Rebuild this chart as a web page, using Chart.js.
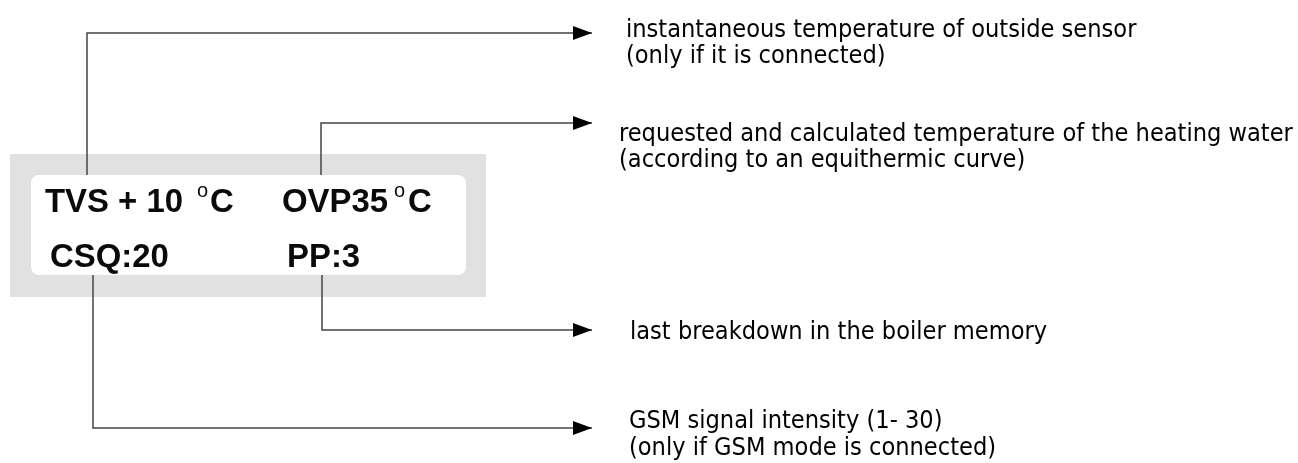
<!DOCTYPE html>
<html>
<head>
<meta charset="utf-8">
<script src="https://cdn.jsdelivr.net/npm/chart.js@4"></script>
<style>
  html, body { margin: 0; padding: 0; background: #fff; }
  canvas { display: block; }
</style>
</head>
<body>
<canvas id="panelChart" width="1298" height="463"></canvas>
<script>
// Readings shown on the boiler display
const readingNames = ['TVS', 'OVP', 'CSQ', 'PP'];
const readingValues = [10, 35, 20, 3];
const readingUnits = ['°C', '°C', '', ''];

// What each reading means
const descriptions = [
    ['instantaneous temperature of outside sensor', '(only if it is connected)'],
    ['requested and calculated temperature of the heating water', '(according to an equithermic curve)'],
    ['GSM signal intensity (1- 30)', '(only if GSM mode is connected)'],
    ['last breakdown in the boiler memory']
];

// Leader lines, in diagram units: where each leaves the display, and the row it runs along
const leaderX = [87, 321, 93, 322];
const leaderY = [33, 123, 428, 330];

// ---- layout (diagram units = pixels of the 1298x463 page) ----
const outerBox = { x0: 10, y0: 154, x1: 486, y1: 297 };
const screenBox = { x0: 31, y0: 175, x1: 466, y1: 275, r: 8 };
const arrowTipX = 592;
const textX = [626, 619, 629, 630];
const textBase = [[37, 63], [141, 167], [428, 455], [339]];
// display text pieces: [main x, degree x, unit x, baseline]
const readingPos = [[45, 197, 210, 212], [282, 394, 408, 212], [50, 0, 0, 267], [287, 0, 0, 267]];

// pick a narrow font if the sandbox has one
function hasFont(name) {
    const c = document.createElement('canvas').getContext('2d');
    const s = 'abcdefghijklmnopqrstuvwxyz ABCDEFG';
    c.font = '40px monospace';
    const a = c.measureText(s).width;
    c.font = '40px "' + name + '", monospace';
    return c.measureText(s).width !== a;
}
const narrowFamily = ['Liberation Sans Narrow', 'DejaVu Sans Condensed', 'Liberation Sans']
    .find(hasFont) || 'sans-serif';

function fitSize(ctx, font, text, width) {
    ctx.font = font.replace('SIZE', '100px');
    return 100 * width / ctx.measureText(text).width;
}

const leaderSets = readingNames.map((name, i) => {
    const startY = leaderY[i] < screenBox.y0 ? screenBox.y0 : screenBox.y1;
    return {
        label: name,
        data: [
            { x: leaderX[i], y: startY },
            { x: leaderX[i], y: leaderY[i] },
            { x: arrowTipX, y: leaderY[i] }
        ],
        showLine: true,
        borderColor: '#444',
        borderWidth: 1.5,
        pointRadius: 0,
        tension: 0,
        clip: false
    };
});

const boxesPlugin = {
    id: 'boxes',
    beforeDatasetsDraw(chart) {
        const { ctx, scales: { x, y } } = chart;
        ctx.save();
        ctx.fillStyle = '#e1e1e1';
        ctx.fillRect(x.getPixelForValue(outerBox.x0), y.getPixelForValue(outerBox.y0),
            x.getPixelForValue(outerBox.x1) - x.getPixelForValue(outerBox.x0),
            y.getPixelForValue(outerBox.y1) - y.getPixelForValue(outerBox.y0));
        ctx.fillStyle = '#ffffff';
        ctx.beginPath();
        ctx.roundRect(x.getPixelForValue(screenBox.x0), y.getPixelForValue(screenBox.y0),
            x.getPixelForValue(screenBox.x1) - x.getPixelForValue(screenBox.x0),
            y.getPixelForValue(screenBox.y1) - y.getPixelForValue(screenBox.y0), screenBox.r);
        ctx.fill();
        ctx.restore();
    }
};

const labelsPlugin = {
    id: 'labels',
    afterDatasetsDraw(chart) {
        const { ctx, scales: { x, y } } = chart;
        ctx.save();

        // arrow heads at the end of each leader
        ctx.fillStyle = '#000';
        chart.data.datasets.forEach((ds, i) => {
            const pts = chart.getDatasetMeta(i).data;
            const tip = pts[pts.length - 1];
            ctx.beginPath();
            ctx.moveTo(tip.x, tip.y);
            ctx.lineTo(tip.x - 19, tip.y - 7);
            ctx.lineTo(tip.x - 19, tip.y + 7);
            ctx.closePath();
            ctx.fill();
        });

        // readings on the display
        ctx.fillStyle = '#0a0a0a';
        ctx.textBaseline = 'alphabetic';
        ctx.textAlign = 'left';
        const boldFont = 'bold SIZE "Liberation Sans"';
        const boldSize = fitSize(ctx, boldFont, 'TVS + 10', 138);
        readingNames.forEach((name, i) => {
            const p = readingPos[i];
            let main;
            if (i === 0) main = name + ' + ' + readingValues[i];
            else if (i === 1) main = name + readingValues[i];
            else main = name + ':' + readingValues[i];
            ctx.font = boldFont.replace('SIZE', boldSize.toFixed(1) + 'px');
            ctx.fillText(main, x.getPixelForValue(p[0]), y.getPixelForValue(p[3]));
            if (readingUnits[i]) {
                ctx.fillText(readingUnits[i].slice(1), x.getPixelForValue(p[2]), y.getPixelForValue(p[3]));
                ctx.font = '20px "Liberation Sans"';
                ctx.fillText('o', x.getPixelForValue(p[1]), y.getPixelForValue(p[3] - 15));
            }
        });

        // descriptions
        const descFont = 'SIZE "' + narrowFamily + '"';
        const size = fitSize(ctx, descFont, descriptions[3][0], 418);
        ctx.font = descFont.replace('SIZE', size.toFixed(1) + 'px');
        ctx.fillStyle = '#000';
        descriptions.forEach((lines, i) => {
            lines.forEach((line, j) => {
                ctx.fillText(line, x.getPixelForValue(textX[i]), y.getPixelForValue(textBase[i][j]));
            });
        });
        ctx.restore();
    }
};

new Chart(document.getElementById('panelChart').getContext('2d'), {
    type: 'scatter',
    data: { datasets: leaderSets },
    options: {
        responsive: false,
        animation: false,
        events: [],
        layout: { padding: 0 },
        plugins: { legend: { display: false }, tooltip: { enabled: false } },
        scales: {
            x: { type: 'linear', min: 0, max: 1298, display: false },
            y: { type: 'linear', min: 0, max: 463, reverse: true, display: false }
        }
    },
    plugins: [boxesPlugin, labelsPlugin]
});
</script>
</body>
</html>
